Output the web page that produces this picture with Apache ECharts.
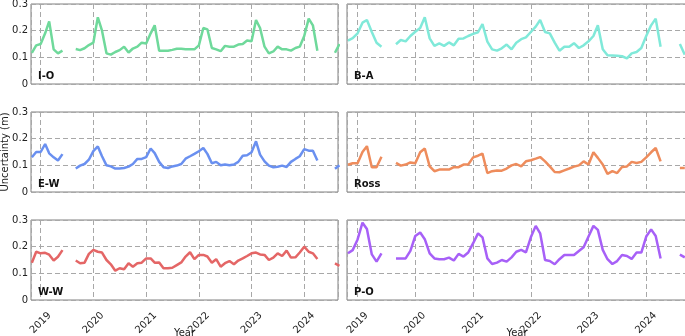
<!DOCTYPE html>
<html>
<head>
<meta charset="utf-8">
<script src="https://cdn.jsdelivr.net/npm/echarts@6/dist/echarts.min.js"></script>
<style>
    html, body { margin: 0; padding: 0; background: #fff; }
    #chart { width: 685px; height: 336px; }
</style>
</head>
<body>
<div id="chart"></div>
<script>
    // monthly epochs, nulls are the gaps in the record
    const months = [
        '2018-11-01', '2018-12-01', '2019-01-01', '2019-02-01', '2019-03-01', '2019-04-01', '2019-05-01', '2019-06-01',
        '2019-07-01', '2019-08-01', '2019-09-01', '2019-10-01', '2019-11-01', '2019-12-01',
        '2020-01-01', '2020-02-01', '2020-03-01', '2020-04-01', '2020-05-01', '2020-06-01',
        '2020-07-01', '2020-08-01', '2020-09-01', '2020-10-01', '2020-11-01', '2020-12-01',
        '2021-01-01', '2021-02-01', '2021-03-01', '2021-04-01', '2021-05-01', '2021-06-01',
        '2021-07-01', '2021-08-01', '2021-09-01', '2021-10-01', '2021-11-01', '2021-12-01',
        '2022-01-01', '2022-02-01', '2022-03-01', '2022-04-01', '2022-05-01', '2022-06-01',
        '2022-07-01', '2022-08-01', '2022-09-01', '2022-10-01', '2022-11-01', '2022-12-01',
        '2023-01-01', '2023-02-01', '2023-03-01', '2023-04-01', '2023-05-01', '2023-06-01',
        '2023-07-01', '2023-08-01', '2023-09-01', '2023-10-01', '2023-11-01', '2023-12-01',
        '2024-01-01', '2024-02-01', '2024-03-01', '2024-04-01', '2024-05-01', '2024-06-01',
        '2024-07-01', '2024-08-01', '2024-09-01'
    ];

    const io = [0.117, 0.145, 0.150, 0.190, 0.235, 0.130, 0.115, 0.125, null, null,
        0.131, 0.127, 0.134, 0.146, 0.155, 0.250, 0.200, 0.115, 0.110, 0.120, 0.127, 0.140,
        0.118, 0.133, 0.140, 0.155, 0.152, 0.190, 0.220, 0.125, 0.125, 0.125, 0.128, 0.132,
        0.132, 0.130, 0.130, 0.130, 0.145, 0.210, 0.205, 0.135, 0.130, 0.123, 0.143, 0.140,
        0.140, 0.148, 0.150, 0.163, 0.160, 0.240, 0.210, 0.140, 0.115, 0.122, 0.140, 0.130,
        0.130, 0.125, 0.135, 0.140, 0.180, 0.245, 0.220, 0.125, null, null, null, 0.117, 0.150];
    const ba = [0.163, 0.172, 0.190, 0.230, 0.240, 0.195, 0.155, 0.140, null, null,
        0.149, 0.165, 0.160, 0.180, 0.196, 0.210, 0.250, 0.171, 0.143, 0.152, 0.143, 0.156,
        0.145, 0.170, 0.171, 0.180, 0.188, 0.194, 0.225, 0.159, 0.130, 0.125, 0.134, 0.148,
        0.130, 0.155, 0.168, 0.175, 0.195, 0.215, 0.240, 0.195, 0.190, 0.155, 0.125, 0.140,
        0.140, 0.153, 0.135, 0.145, 0.160, 0.180, 0.220, 0.130, 0.108, 0.107, 0.106, 0.104,
        0.096, 0.115, 0.120, 0.135, 0.180, 0.220, 0.245, 0.140, null, null, null, 0.150, 0.110];
    const ew = [0.130, 0.150, 0.150, 0.180, 0.145, 0.130, 0.118, 0.142, null, null,
        0.088, 0.099, 0.105, 0.121, 0.153, 0.171, 0.134, 0.100, 0.096, 0.088, 0.088, 0.090,
        0.095, 0.105, 0.124, 0.124, 0.131, 0.163, 0.146, 0.113, 0.093, 0.090, 0.096, 0.099,
        0.105, 0.125, 0.134, 0.143, 0.153, 0.165, 0.143, 0.108, 0.113, 0.100, 0.103, 0.100,
        0.103, 0.113, 0.136, 0.138, 0.149, 0.190, 0.140, 0.115, 0.099, 0.093, 0.095, 0.099,
        0.094, 0.113, 0.124, 0.134, 0.161, 0.155, 0.155, 0.118, null, null, null, 0.087, 0.100];
    const ross = [0.102, 0.108, 0.108, 0.150, 0.172, 0.093, 0.093, 0.132, null, null,
        0.109, 0.099, 0.103, 0.111, 0.108, 0.149, 0.163, 0.096, 0.078, 0.084, 0.084, 0.084,
        0.093, 0.093, 0.103, 0.103, 0.130, 0.136, 0.144, 0.071, 0.078, 0.081, 0.080, 0.088,
        0.100, 0.105, 0.096, 0.115, 0.119, 0.125, 0.131, 0.115, 0.096, 0.075, 0.074, 0.081,
        0.088, 0.095, 0.100, 0.115, 0.103, 0.149, 0.128, 0.103, 0.068, 0.078, 0.071, 0.094,
        0.096, 0.113, 0.109, 0.113, 0.130, 0.149, 0.165, 0.115, null, null, null, 0.090, 0.090];
    const ww = [0.140, 0.181, 0.175, 0.177, 0.170, 0.148, 0.162, 0.187, null, null,
        0.148, 0.138, 0.140, 0.173, 0.188, 0.181, 0.178, 0.150, 0.134, 0.110, 0.119, 0.115,
        0.138, 0.125, 0.138, 0.140, 0.156, 0.156, 0.140, 0.141, 0.119, 0.119, 0.121, 0.131,
        0.141, 0.163, 0.179, 0.153, 0.169, 0.169, 0.163, 0.140, 0.153, 0.125, 0.138, 0.146,
        0.134, 0.148, 0.156, 0.165, 0.175, 0.178, 0.171, 0.169, 0.150, 0.159, 0.175, 0.165,
        0.185, 0.159, 0.160, 0.178, 0.200, 0.181, 0.175, 0.154, null, null, null, 0.137, 0.128];
    const po = [0.175, 0.187, 0.227, 0.290, 0.266, 0.171, 0.144, 0.175, null, null,
        0.156, 0.156, 0.156, 0.184, 0.240, 0.253, 0.228, 0.175, 0.156, 0.153, 0.153, 0.159,
        0.148, 0.173, 0.163, 0.178, 0.213, 0.250, 0.235, 0.156, 0.135, 0.140, 0.150, 0.144,
        0.160, 0.181, 0.188, 0.179, 0.235, 0.278, 0.250, 0.150, 0.146, 0.134, 0.153, 0.169,
        0.169, 0.169, 0.184, 0.198, 0.238, 0.278, 0.263, 0.188, 0.153, 0.135, 0.146, 0.169,
        0.165, 0.154, 0.178, 0.178, 0.238, 0.265, 0.240, 0.156, null, null, null, 0.170, 0.160];

    const panels = [
        {name: 'I-O', data: io, color: '#6fd99b'},
        {name: 'B-A', data: ba, color: '#80e9d9'},
        {name: 'E-W', data: ew, color: '#6a90f0'},
        {name: 'Ross', data: ross, color: '#ee8c5c'},
        {name: 'W-W', data: ww, color: '#e46666'},
        {name: 'P-O', data: po, color: '#a760f7'}
    ];

    const chart = echarts.init(document.getElementById('chart'));
    const rowTop = [4, 112, 220];
    const font = 'DejaVu Sans';

    let grids = [], xAxes = [], yAxes = [], series = [], titles = [];
    panels.forEach(function (p, i) {
        const row = Math.floor(i / 2), col = i % 2;
        const left = col === 0 ? 31 : 347;
        grids.push({
            left: left, top: rowTop[row], height: 80,
            width: col === 0 ? 307 : 340,
            outerBoundsMode: 'none',
            show: true, borderColor: '#808080', borderWidth: 1
        });
        xAxes.push({
            type: 'time', gridIndex: i,
            min: '2018-10-26',
            max: col === 0 ? '2024-08-22' : '2024-09-15',
            splitNumber: 5,
            axisLine: {show: false},
            axisTick: {show: false},
            splitLine: {show: true, lineStyle: {color: '#a8a8a8', type: [5, 3], width: 1}},
            axisLabel: {
                show: row === 2,
                showMinLabel: false, showMaxLabel: false,
                rotate: 45, align: 'center', verticalAlign: 'middle', margin: 23,
                fontSize: 10, fontFamily: font, color: '#222',
                formatter: '{yyyy}'
            },
            name: row === 2 ? 'Year' : '',
            nameLocation: 'middle', nameGap: 28, nameMoveOverlap: false,
            nameTextStyle: {fontSize: 10, fontFamily: font, color: '#222'}
        });
        yAxes.push({
            type: 'value', gridIndex: i,
            min: 0, max: 0.3, interval: 0.1,
            axisLine: {show: false},
            axisTick: {show: false},
            splitLine: {show: true, lineStyle: {color: '#a8a8a8', type: [5, 3], width: 1}},
            axisLabel: {
                show: col === 0, margin: 3,
                fontSize: 10, fontFamily: font, color: '#222',
                formatter: function (v) { return v === 0 ? '0' : v.toFixed(1); }
            },
            name: (row === 1 && col === 0) ? 'Uncertainty (m)' : '',
            nameLocation: 'middle', nameGap: 21, nameMoveOverlap: false,
            nameTextStyle: {fontSize: 10, fontFamily: font, color: '#222'}
        });
        series.push({
            name: p.name, type: 'line',
            xAxisIndex: i, yAxisIndex: i,
            data: months.map(function (m, k) { return [m, p.data[k]]; }),
            symbol: 'none', connectNulls: false,
            lineStyle: {color: p.color, width: 2.5},
            itemStyle: {color: p.color},
            z: 3
        });
        titles.push({
            text: p.name, left: left + 7, top: rowTop[row] + 67, padding: 0,
            textStyle: {fontSize: 10, fontWeight: 'bold', fontFamily: font, color: '#111'}
        });
    });

    chart.setOption({
        animation: false,
        title: titles,
        grid: grids,
        xAxis: xAxes,
        yAxis: yAxes,
        series: series
    });
</script>
</body>
</html>
